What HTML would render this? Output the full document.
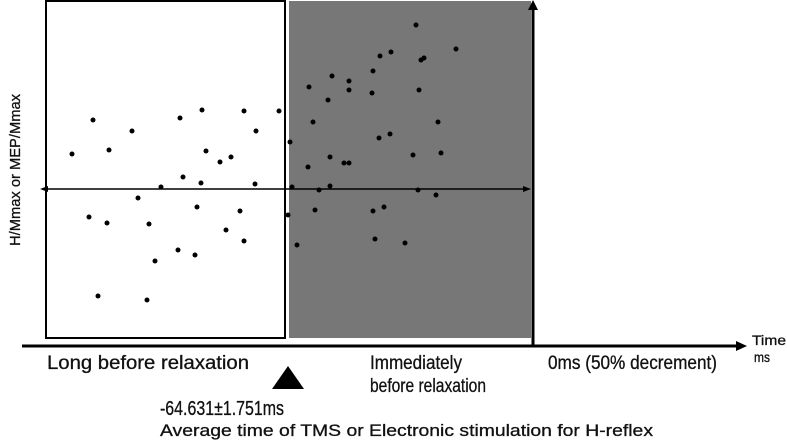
<!DOCTYPE html>
<html><head><meta charset="utf-8"><style>
html,body{margin:0;padding:0;background:#fff;}
svg{display:block;font-family:"Liberation Sans",sans-serif;}
text{fill:#111;}
</style></head><body>
<svg id="chart" width="787" height="440" viewBox="0 0 787 440">
  <rect x="46" y="1" width="239" height="337" fill="#fff" stroke="#000" stroke-width="2"/>
  <rect x="289" y="1" width="242" height="337" fill="#777"/>
  <g id="dots"></g>
  <line x1="46" y1="189" x2="526" y2="189" stroke="#000" stroke-width="1.5"/>
  <polygon points="40,189 48,186 48,192" fill="#000"/>
  <polygon points="531,189 523,186 523,192" fill="#000"/>
  <line x1="533" y1="8" x2="533" y2="346" stroke="#000" stroke-width="3"/>
  <polygon points="533,0 528,10 538,10" fill="#000"/>
  <line x1="22" y1="346" x2="738" y2="346" stroke="#000" stroke-width="3"/>
  <polygon points="747,346 736,341 736,351" fill="#000"/>
  <text transform="translate(20,170) rotate(-90)" text-anchor="middle" font-size="15" stroke="#111" stroke-width="0.3" textLength="152" lengthAdjust="spacingAndGlyphs">H/Mmax or MEP/Mmax</text>
  <text x="752" y="345" font-size="14" stroke="#111" stroke-width="0.3" textLength="34" lengthAdjust="spacingAndGlyphs">Time</text>
  <text x="754" y="362" font-size="14" stroke="#111" stroke-width="0.3" textLength="16" lengthAdjust="spacingAndGlyphs">ms</text>
  <text x="47" y="369" font-size="19" stroke="#111" stroke-width="0.3" textLength="202" lengthAdjust="spacingAndGlyphs">Long before relaxation</text>
  <text x="370" y="369" font-size="19" stroke="#111" stroke-width="0.3" textLength="92" lengthAdjust="spacingAndGlyphs">Immediately</text>
  <text x="370" y="392" font-size="19" stroke="#111" stroke-width="0.3" textLength="116" lengthAdjust="spacingAndGlyphs">before relaxation</text>
  <text x="548" y="369" font-size="19" stroke="#111" stroke-width="0.3" textLength="169" lengthAdjust="spacingAndGlyphs">0ms (50% decrement)</text>
  <polygon points="288,366 272,389 304,389" fill="#000"/>
  <text x="160" y="415" font-size="20" stroke="#111" stroke-width="0.3" textLength="124" lengthAdjust="spacingAndGlyphs">-64.631±1.751ms</text>
  <text x="160" y="436" font-size="17" stroke="#111" stroke-width="0.3" textLength="493" lengthAdjust="spacingAndGlyphs">Average time of TMS or Electronic stimulation for H-reflex</text>
</svg>
<script>
const timesLong = [-461,-440,-424,-401,-353,-331,-289,-254,-277,-327,-313,-302,-350,-332,-278,-372,-395,-444,-426,-384,-336,-293,-307,-289,-355,-338,-378,-435,-386];
const valuesLong = [0.35,0.69,0.39,0.58,0.71,0.79,0.78,0.78,0.58,0.38,0.27,0.32,0.12,0.06,0.05,0.02,-0.09,-0.28,-0.34,-0.35,-0.18,-0.22,-0.41,-0.52,-0.61,-0.66,-0.72,-1.07,-1.11];
const timesImm = [-117,-77,-142,-153,-112,-109,-201,-184,-160,-224,-184,-161,-114,-205,-220,-95,-243,-154,-143,-120,-92,-203,-189,-184,-225,-241,-203,-214,-115,-97,-245,-218,-160,-149,-236,-158,-128];
const valuesImm = [1.64,1.40,1.37,1.33,1.29,1.31,1.13,1.08,1.18,1.02,0.99,0.96,0.99,0.89,0.67,0.67,0.47,0.51,0.55,0.34,0.36,0.32,0.26,0.26,0.22,0.02,0.03,-0.01,-0.01,-0.06,-0.26,-0.21,-0.22,-0.18,-0.56,-0.50,-0.54];
function xS(v){ return 533 + v; }
function yS(v){ return 189 - 100 * v; }
const g = document.getElementById('dots');
const NS = 'http://www.w3.org/2000/svg';
function plot(ts, vs){
  for (let i = 0; i < ts.length; i++){
    const c = document.createElementNS(NS, 'circle');
    c.setAttribute('cx', xS(ts[i]));
    c.setAttribute('cy', yS(vs[i]));
    c.setAttribute('r', 2.5);
    c.setAttribute('fill', '#000');
    
    
    g.appendChild(c);
  }
}
plot(timesLong, valuesLong);
plot(timesImm, valuesImm);
</script>
</body></html>
